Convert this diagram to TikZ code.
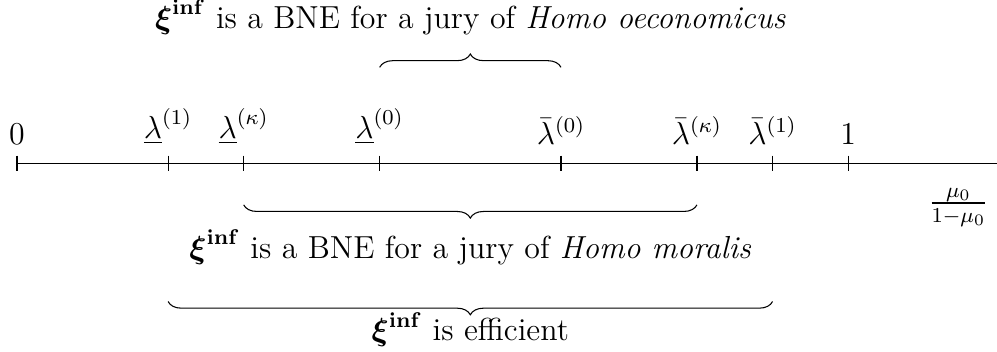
\documentclass[tikz,border=0pt]{standalone}
\usepackage{amsmath}
\usepackage{amssymb}
\usetikzlibrary{positioning,decorations.pathreplacing,calc}

\begin{document}
\begin{tikzpicture}[
      font=\large,
      lab/.style={anchor=south, inner sep=4pt},
      txt/.style={anchor=base, inner sep=0pt},
      brc/.style={decorate, decoration={brace, amplitude=5pt}},
      mbrc/.style={decorate, decoration={brace, amplitude=5pt, mirror}},
    ]
    \useasboundingbox (-0.225,-2.488) rectangle (12.971,2.161);

    % axis with its ticks
    \coordinate (z) at (0,0);
    \coordinate (end) at (13,0);
    \draw (z) -- (end);
    \foreach \x/\n/\t in {0/z/$0$, 2/l1/$\underline{\lambda}^{(1)}$,
        3/lk/$\underline{\lambda}^{(\kappa)}$, 4.8/l0/$\underline{\lambda}^{(0)}$,
        7.2/u0/$\bar{\lambda}^{(0)}$, 9/uk/$\bar{\lambda}^{(\kappa)}$,
        10/u1/$\bar{\lambda}^{(1)}$, 11/one/$1$} {
      \coordinate (\n) at (\x,0);
      \draw ($(\n)+(0,0.1)$) -- ($(\n)+(0,-0.1)$);
      \node[lab] (\n-lab) at ($(\n)+(0,0.1)$) {\t};
    }
    \node[anchor=east] (ratio) at (12.98,-0.58) {$\frac{\mu_0}{1-\mu_0}$};

    % braces
    \draw[brc] ($(l0)+(0,1.27)$) -- ($(u0)+(0,1.27)$);
    \node[txt] (econ) at (6,1.79)
      {$\boldsymbol{\xi}^{\mathbf{inf}}$ is a BNE for a jury of \textit{Homo oeconomicus}};

    \draw[mbrc] ($(lk)+(0,-0.55)$) -- ($(uk)+(0,-0.55)$);
    \node[txt] (moral) at (6,-1.257)
      {$\boldsymbol{\xi}^{\mathbf{inf}}$ is a BNE for a jury of \textit{Homo moralis}};

    \draw[mbrc] ($(l1)+(0,-1.83)$) -- ($(u1)+(0,-1.83)$);
    \node[txt] (eff) at (6,-2.35) {$\boldsymbol{\xi}^{\mathbf{inf}}$ is efficient};
  \end{tikzpicture}
\end{document}
